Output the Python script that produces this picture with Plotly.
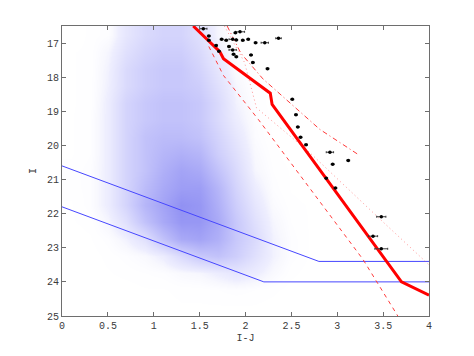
import plotly.graph_objects as go

# ---- blue field-star density, rows = I centers, cols = (I-J) centers
dens_x = [0.1, 0.3, 0.5, 0.7, 0.9, 1.1, 1.3, 1.5, 1.7, 1.9, 2.1, 2.3, 2.5, 2.7, 2.9, 3.1, 3.3, 3.5, 3.7, 3.9]
dens_y = [16.75, 17.25, 17.75, 18.25, 18.75, 19.25, 19.75, 20.25, 20.75, 21.25, 21.75, 22.25, 22.75, 23.25, 23.75, 24.25, 24.75]
dens_z = [
    [0.0, 0.3, 0.5, 2.0, 3.0, 3.5, 3.5, 2.5, 1.0, 0.3, 0.0, 0.0, 0.0, 0.0, 0.0, 0.0, 0.0, 0.0, 0.0, 0.0],
    [0.2, 0.3, 1.0, 2.5, 3.5, 4.0, 4.0, 3.0, 1.5, 0.5, 0.1, 0.0, 0.0, 0.0, 0.0, 0.0, 0.0, 0.0, 0.0, 0.0],
    [0.2, 0.3, 1.2, 3.0, 4.0, 4.5, 4.5, 3.5, 2.0, 0.7, 0.2, 0.0, 0.0, 0.0, 0.0, 0.0, 0.0, 0.0, 0.0, 0.0],
    [0.2, 0.3, 1.3, 3.0, 4.0, 4.5, 4.5, 4.0, 2.5, 1.0, 0.3, 0.1, 0.0, 0.0, 0.0, 0.0, 0.0, 0.0, 0.0, 0.0],
    [0.2, 0.3, 1.5, 3.5, 4.5, 5.0, 5.0, 4.5, 3.0, 1.2, 0.4, 0.1, 0.0, 0.0, 0.0, 0.0, 0.0, 0.0, 0.0, 0.0],
    [0.2, 0.4, 1.5, 3.5, 4.5, 5.0, 5.0, 4.5, 3.0, 1.5, 0.5, 0.2, 0.1, 0.0, 0.0, 0.0, 0.0, 0.0, 0.0, 0.0],
    [0.2, 0.4, 1.5, 3.5, 5.0, 5.5, 5.5, 5.0, 3.5, 2.0, 0.6, 0.2, 0.1, 0.1, 0.0, 0.0, 0.0, 0.0, 0.0, 0.0],
    [0.2, 0.4, 1.5, 3.5, 5.0, 6.0, 6.5, 6.0, 4.0, 2.5, 0.8, 0.3, 0.1, 0.1, 0.1, 0.0, 0.0, 0.0, 0.0, 0.0],
    [0.3, 0.5, 1.5, 3.5, 5.0, 6.5, 7.5, 7.0, 5.0, 3.0, 1.0, 0.4, 0.2, 0.1, 0.1, 0.0, 0.0, 0.0, 0.0, 0.0],
    [0.3, 0.5, 1.5, 3.5, 5.5, 7.0, 8.0, 8.0, 6.0, 3.5, 1.5, 0.5, 0.2, 0.1, 0.1, 0.1, 0.0, 0.0, 0.0, 0.0],
    [0.2, 0.5, 1.5, 3.5, 6.0, 7.5, 9.0, 8.5, 6.5, 4.0, 2.0, 0.7, 0.3, 0.2, 0.1, 0.1, 0.0, 0.0, 0.0, 0.0],
    [0.2, 0.3, 1.0, 2.5, 5.0, 7.0, 8.5, 8.5, 7.0, 4.5, 2.5, 1.0, 0.4, 0.2, 0.1, 0.1, 0.0, 0.0, 0.0, 0.0],
    [0.1, 0.2, 0.5, 1.2, 2.5, 5.0, 7.0, 7.5, 6.5, 4.5, 3.0, 1.2, 0.5, 0.2, 0.1, 0.1, 0.0, 0.0, 0.0, 0.0],
    [0.1, 0.1, 0.3, 0.5, 0.8, 1.5, 3.0, 4.5, 5.0, 4.0, 2.5, 1.2, 0.5, 0.2, 0.1, 0.1, 0.0, 0.0, 0.0, 0.0],
    [0.0, 0.1, 0.2, 0.3, 0.4, 0.5, 0.8, 1.0, 1.5, 2.0, 1.5, 0.8, 0.3, 0.1, 0.1, 0.0, 0.0, 0.0, 0.0, 0.0],
    [0.0, 0.0, 0.1, 0.1, 0.2, 0.2, 0.3, 0.3, 0.4, 0.5, 0.4, 0.3, 0.1, 0.1, 0.0, 0.0, 0.0, 0.0, 0.0, 0.0],
    [0.0, 0.0, 0.0, 0.1, 0.1, 0.1, 0.2, 0.2, 0.2, 0.2, 0.2, 0.1, 0.0, 0.0, 0.0, 0.0, 0.0, 0.0, 0.0, 0.0],
]

# ---- blue selection boundaries
upper_x = [0.0, 2.8, 4.0]
upper_y = [20.6, 23.4, 23.4]
lower_x = [0.0, 2.2, 4.0]
lower_y = [21.8, 24.0, 24.0]

# ---- red isochrone (thick) and offset curves
iso_x = [1.43, 1.72, 1.76, 2.27, 2.29, 3.70, 4.0]
iso_y = [16.5, 17.25, 17.46, 18.47, 18.8, 24.0, 24.39]
dash_x = [1.60, 1.76, 2.14, 3.28, 3.66]
dash_y = [17.1, 17.95, 19.24, 23.34, 25.0]
dot_x = [1.77, 1.99, 2.12, 2.70, 3.43, 4.0]
dot_y = [16.5, 17.57, 18.9, 20.21, 22.07, 23.5]
dashdot_x = [1.80, 1.95, 2.19, 2.56, 2.81, 3.23]
dashdot_y = [16.5, 17.3, 18.05, 18.95, 19.53, 20.27]

# ---- black candidate members with horizontal error bars
pts_x = [1.54, 1.60, 1.60, 1.68, 1.71, 1.74, 1.79, 1.86, 1.89, 1.94, 1.90, 1.97, 2.03, 2.11, 2.21, 2.36,
         1.86, 1.87, 1.90, 2.06, 2.08, 2.24, 1.82,
         2.51, 2.55, 2.57, 2.60, 2.66, 2.92, 3.12, 2.95, 2.88, 2.98, 3.48, 3.39, 3.48]
pts_y = [16.58, 16.79, 16.92, 17.07, 17.24, 16.89, 16.92, 16.89, 16.70, 16.67, 16.91, 16.92, 16.89, 16.99, 16.99, 16.86,
         17.20, 17.33, 17.40, 17.35, 17.57, 17.75, 17.10,
         18.65, 19.10, 19.46, 19.76, 19.98, 20.20, 20.44, 20.55, 20.96, 21.25, 22.09, 22.66, 23.03]
pts_err = [0.04, 0.015, 0.015, 0.015, 0.015, 0.015, 0.015, 0.04, 0.015, 0.05, 0.015, 0.015, 0.015, 0.015, 0.04, 0.03,
           0.04, 0.015, 0.015, 0.015, 0.015, 0.015, 0.015,
           0.015, 0.015, 0.015, 0.015, 0.015, 0.04, 0.015, 0.015, 0.015, 0.015, 0.05, 0.05, 0.07]

x_ticks = [0, 0.5, 1, 1.5, 2, 2.5, 3, 3.5, 4]
x_tick_text = ["0", "0.5", "1", "1.5", "2", "2.5", "3", "3.5", "4"]
y_ticks = [17, 18, 19, 20, 21, 22, 23, 24, 25]

FONT = "Liberation Mono, DejaVu Sans Mono, monospace"

fig = go.Figure()
fig.add_trace(go.Heatmap(
    x=dens_x, y=dens_y, z=dens_z, zmin=0, zmax=9, zsmooth="best", showscale=False,
    colorscale=[[0, "rgba(255,255,255,0)"], [0.15, "rgb(238,238,254)"], [0.5, "rgb(200,200,251)"], [1, "rgb(145,145,243)"]],
    hoverinfo="skip"))
fig.add_trace(go.Scatter(x=upper_x, y=upper_y, mode="lines", line=dict(color="rgb(70,70,255)", width=1)))
fig.add_trace(go.Scatter(x=lower_x, y=lower_y, mode="lines", line=dict(color="rgb(70,70,255)", width=1)))
fig.add_trace(go.Scatter(x=dash_x, y=dash_y, mode="lines", line=dict(color="rgb(255,60,60)", width=1, dash="4px,4px")))
fig.add_trace(go.Scatter(x=dot_x, y=dot_y, mode="lines", line=dict(color="rgba(255,80,80,0.6)", width=1, dash="1px,3px")))
fig.add_trace(go.Scatter(x=dashdot_x, y=dashdot_y, mode="lines", line=dict(color="rgb(255,60,60)", width=1, dash="5px,3px,1px,3px")))
fig.add_trace(go.Scatter(x=iso_x, y=iso_y, mode="lines", line=dict(color="rgb(255,0,0)", width=3)))
fig.add_trace(go.Scatter(
    x=pts_x, y=pts_y, mode="markers",
    marker=dict(color="black", size=3.5),
    error_x=dict(type="data", array=pts_err, color="rgb(60,60,60)", thickness=1, width=1)))

axis_common = dict(
    showgrid=False, zeroline=False, showline=True, linecolor="rgb(110,110,110)", linewidth=1,
    mirror="ticks", ticks="inside", ticklen=4, tickcolor="rgb(110,110,110)",
    tickfont=dict(family=FONT, size=10, color="rgb(60,60,60)"))

fig.update_layout(
    width=474, height=356, showlegend=False,
    margin=dict(l=54, r=53, t=18, b=48),
    paper_bgcolor="white", plot_bgcolor="white",
    xaxis=dict(range=[0, 4], tickvals=x_ticks, ticktext=x_tick_text,
               title=dict(text="I-J", font=dict(family=FONT, size=10, color="rgb(60,60,60)"), standoff=2),
               **axis_common),
    yaxis=dict(range=[25, 16.5], tickvals=y_ticks,
               title=dict(text="I", font=dict(family=FONT, size=10, color="rgb(60,60,60)"), standoff=8),
               **axis_common),
)

fig.write_html("out.html")
